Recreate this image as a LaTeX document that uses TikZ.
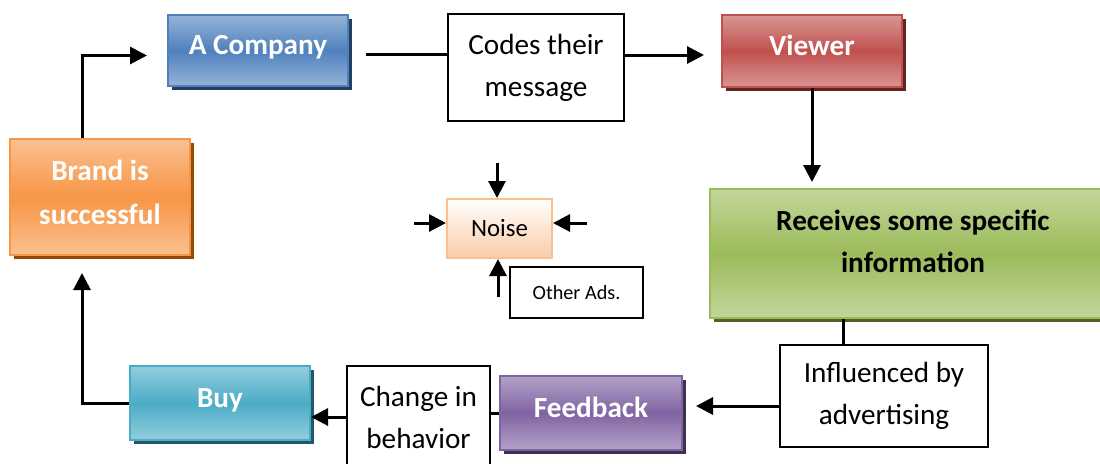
\documentclass[tikz,border=0pt]{standalone}
\usepackage{fontspec}
\setmainfont{Carlito}
\usetikzlibrary{arrows.meta, shadows, calc}

\definecolor{cblue}{HTML}{4F81BD}
\definecolor{cbluel}{HTML}{95B3D7}
\definecolor{cblued}{HTML}{243F60}
\definecolor{cred}{HTML}{C0504D}
\definecolor{credl}{HTML}{D99694}
\definecolor{credd}{HTML}{632523}
\definecolor{cgreen}{HTML}{9BBB59}
\definecolor{cgreenl}{HTML}{C3D69B}
\definecolor{cgreend}{HTML}{4F6228}
\definecolor{corange}{HTML}{F79646}
\definecolor{corangel}{HTML}{FAC090}
\definecolor{coranged}{HTML}{974806}
\definecolor{caqua}{HTML}{4BACC6}
\definecolor{caqual}{HTML}{93CDDD}
\definecolor{caquad}{HTML}{215968}
\definecolor{cpurple}{HTML}{8064A2}
\definecolor{cpurplel}{HTML}{B2A2C7}
\definecolor{cpurpled}{HTML}{3F3151}
\definecolor{cpeach}{HTML}{FBCBA6}

\begin{document}
\begin{tikzpicture}[x=0.5pt, y=-0.5pt,
    txt/.style={font=\fontsize{14.6}{21}\selectfont, align=center, inner sep=0pt},
    office/.style args={#1/#2/#3}{txt, font=\fontsize{14.6}{21}\selectfont\bfseries, text=white, draw=#1, line width=1pt,
        top color=#2, bottom color=#2, middle color=#1, text depth=6pt,
        drop shadow={shadow xshift=2pt, shadow yshift=-2pt, fill=#3, opacity=1}},
    plainbox/.style={txt, draw, line width=1pt, fill=white},
    line/.style={line width=1.5pt},
    conn/.style={line width=1.5pt, -{Triangle[length=8.5pt, width=8.5pt]}}]
    \useasboundingbox (0,0) rectangle (1100,463);
    % coloured boxes
    \node[office=cblue/cbluel/cblued, minimum width=90pt, minimum height=35.5pt] (company) at (258,50.5) {A Company};
    \node[office=cred/credl/credd, minimum width=90pt, minimum height=36pt] (viewer) at (812,51) {Viewer};
    \node[office=corange/corangel/coranged, font=\fontsize{14.6}{22}\selectfont\bfseries, text depth=5pt,
        minimum width=90pt, minimum height=58pt] (brand) at (100,197) {Brand is\\successful};
    \node[office=cgreen/cgreenl/cgreend, text=black, minimum width=203pt, minimum height=64.5pt, text depth=12pt] (receive) at (913,253.5) {Receives some specific\\information};
    \node[office=cpurple/cpurplel/cpurpled, minimum width=91pt, minimum height=37pt] (feedback) at (591,413) {Feedback};
    \node[office=caqua/caqual/caquad, minimum width=90pt, minimum height=37pt, text depth=5pt] (buy) at (220,403) {Buy};
    % plain boxes
    \node[plainbox, minimum width=88pt, minimum height=53.5pt] (codes) at (536,67.5) {Codes their\\message};
    \node[plainbox, minimum width=104pt, minimum height=51pt] (influence) at (884,396) {Influenced by\\advertising};
    \node[plainbox, minimum width=71.5pt, minimum height=51pt] (change) at (418.5,417) {Change in\\behavior};
    \node[plainbox, font=\fontsize{10.1}{12}\selectfont, minimum width=66.5pt, minimum height=25.5pt] (others) at (576.5,292.5) {Other Ads.};
    \node[txt, font=\fontsize{12.4}{15}\selectfont, draw=corangel, line width=1pt, top color=white, bottom color=cpeach,
        minimum width=52.5pt, minimum height=29.5pt] (noise) at (499.5,228.5) {Noise};
    % loop
    \draw[conn, shorten >=10pt] ([xshift=-9pt]brand.north) |- ([yshift=-2.5pt]company.west);
    \draw[line, shorten <=8.5pt] ([yshift=-2pt]company.east) -- ([yshift=-2pt]company.east -| codes.west);
    \draw[conn, shorten >=8.5pt] ([yshift=-2pt]codes.east |- viewer.west) -- ([yshift=-2pt]viewer.west);
    \draw[conn, shorten >=3pt] (viewer.south) -- (viewer.south |- receive.north);
    \draw[line] ([xshift=-20.5pt]influence.north) -- ([xshift=-20.5pt]influence.north |- receive.south);
    \draw[conn, shorten >=6.5pt] ([yshift=-5pt]influence.west) -- ([yshift=-5pt]influence.west -| feedback.east);
    \draw[line] (feedback.west) -- (feedback.west -| change.east);
    \draw[conn] (change.west) -- (change.west -| buy.east);
    \draw[conn, shorten >=8.5pt] (buy.west) -| ([xshift=-9pt]brand.south);
    % noise arrows
    \coordinate (ntop) at (497,163);
    \coordinate (nleft) at (414,223);
    \coordinate (nright) at (587,223);
    \coordinate (nbot) at (498,297);
    \draw[conn] (ntop) -- (ntop |- noise.north);
    \draw[conn] (nleft) -- (nleft -| noise.west);
    \draw[conn] (nright) -- (nright -| noise.east);
    \draw[conn] (nbot) -- (nbot |- noise.south);
\end{tikzpicture}
\end{document}
